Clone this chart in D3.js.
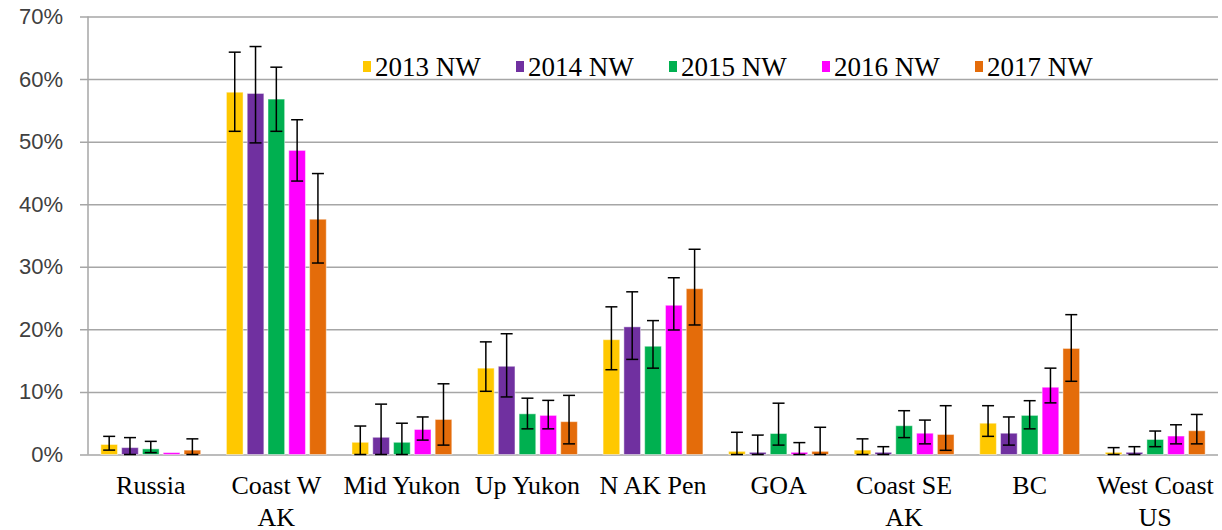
<!DOCTYPE html>
<html>
<head>
<meta charset="utf-8">
<script src="https://cdn.jsdelivr.net/npm/d3@7"></script>
<style>
    body { margin: 0; background: #fff; }
    .grid line { stroke: #a6a6a6; stroke-width: 1.5; }
    .grid text { font-family: "Liberation Sans", Arial, sans-serif; font-size: 22px; fill: #404040; }
    .catText { font-family: "Liberation Serif", "Times New Roman", serif; font-size: 26px; fill: #000; }
    .legendText { font-family: "Liberation Serif", "Times New Roman", serif; font-size: 27px; fill: #000; }
    .errbar { stroke: #000; stroke-width: 1.5; fill: none; }
</style>
</head>
<body>
<svg id="chart" width="1222" height="530"></svg>
<script>
/*
 Data
 */

var categories = ['Russia', 'Coast W\nAK', 'Mid Yukon', 'Up Yukon', 'N AK Pen', 'GOA', 'Coast SE\nAK', 'BC', 'West Coast\nUS'];
var seriesNames = ['2013 NW', '2014 NW', '2015 NW', '2016 NW', '2017 NW'];
var seriesColors = ['#ffc800', '#7030a0', '#00b050', '#ff00ff', '#e46c0a'];
var yTicks = [0, 10, 20, 30, 40, 50, 60, 70];

// bar heights, %
var val2013 = [1.6, 57.9, 1.95, 13.8, 18.35, 0.5, 0.7, 5.0, 0.35];
var val2014 = [1.1, 57.7, 2.75, 14.1, 20.4, 0.35, 0.35, 3.4, 0.35];
var val2015 = [0.9, 56.8, 1.95, 6.5, 17.3, 3.35, 4.6, 6.25, 2.4];
var val2016 = [0.3, 48.6, 4.0, 6.25, 23.85, 0.35, 3.4, 10.75, 2.95];
var val2017 = [0.7, 37.6, 5.6, 5.25, 26.5, 0.5, 3.2, 16.95, 3.8];

// error bar upper ends, %
var hi2013 = [2.9, 64.3, 4.55, 18.0, 23.6, 3.55, 2.5, 7.8, 1.1];
var hi2014 = [2.7, 65.2, 8.05, 19.3, 26.0, 3.1, 1.25, 6.0, 1.25];
var hi2015 = [2.1, 61.9, 5.0, 9.0, 21.4, 8.2, 7.0, 8.6, 3.75];
var hi2016 = [0.3, 53.5, 6.0, 8.65, 28.25, 1.9, 5.5, 13.8, 4.75];
var hi2017 = [2.5, 44.9, 11.3, 9.45, 32.8, 4.35, 7.8, 22.35, 6.4];

// error bar lower ends, %
var lo2013 = [0.7, 51.65, 0, 10.1, 13.55, 0, 0, 2.9, 0];
var lo2014 = [0, 49.8, 0, 9.2, 15.2, 0, 0, 1.5, 0];
var lo2015 = [0.3, 51.65, 0, 4.1, 13.8, 1.5, 2.7, 4.1, 1.25];
var lo2016 = [0.3, 43.7, 2.3, 4.1, 19.9, 0, 1.7, 8.25, 1.7];
var lo2017 = [0, 30.6, 1.5, 1.7, 20.7, 0, 0.67, 11.7, 1.7];

var allVals = [val2013, val2014, val2015, val2016, val2017];
var allHi = [hi2013, hi2014, hi2015, hi2016, hi2017];
var allLo = [lo2013, lo2014, lo2015, lo2016, lo2017];

/*
 Layout
 */

var VAR_LEFT = 88;
var VAR_RIGHT = 1218;
var VAR_TOP = 16.5;
var VAR_BOTTOM = 454.5;
var VAR_CAP = 6;

var svg = d3.select('#chart');

var x0 = d3.scaleBand()
    .domain(categories)
    .range([VAR_LEFT, VAR_RIGHT]);

var groupWidth = 104;
var x1 = d3.scaleBand()
    .domain(seriesNames)
    .range([(x0.bandwidth() - groupWidth) / 2, (x0.bandwidth() + groupWidth) / 2])
    .paddingInner(0.2)
    .paddingOuter(0.1);

var y = d3.scaleLinear()
    .domain([0, 70])
    .range([VAR_BOTTOM, VAR_TOP]);

var barData = [];
seriesNames.forEach(function (s, si) {
    categories.forEach(function (c, ci) {
        barData.push({
            id: s + '_' + ci,
            cat: c,
            series: s,
            color: seriesColors[si],
            value: allVals[si][ci],
            hi: allHi[si][ci],
            lo: allLo[si][ci]
        });
    });
});

/*
 Grid and axis creation
 */

function makeGridSVG(svg) {
    var axis = d3.axisLeft(y)
        .tickValues(yTicks)
        .tickSize(-(VAR_RIGHT - VAR_LEFT + 8))
        .tickSizeOuter(0)
        .tickPadding(17)
        .tickFormat(function (d) {
            return d + '%';
        });

    var g = svg.append('g')
        .classed('grid', true)
        .attr('transform', 'translate(' + (VAR_LEFT - 8) + ',0)')
        .call(axis);

    g.select('.domain').remove();

    svg.append('line')
        .classed('grid', true)
        .attr('x1', VAR_LEFT)
        .attr('x2', VAR_LEFT)
        .attr('y1', VAR_TOP)
        .attr('y2', VAR_BOTTOM)
        .attr('stroke', '#a6a6a6')
        .attr('stroke-width', 1.5);

    return g;
}

function makeCategorySVG(svg) {
    var labels = svg.selectAll('.catText')
        .data(categories)
        .enter().append('text')
        .classed('catText', true)
        .attr('text-anchor', 'middle')
        .attr('y', 494);

    labels.each(function (d) {
        var lines = d.split('\n');
        var cx = x0(d) + x0.bandwidth() / 2;
        d3.select(this).selectAll('tspan')
            .data(lines)
            .enter().append('tspan')
            .attr('x', cx)
            .attr('dy', function (l, i) {
                return i === 0 ? 0 : 31.5;
            })
            .text(function (l) {
                return l;
            });
    });

    return labels;
}

/*
 Bars creation
 */

function makeBarsSVG(barData, svg) {
    var bars = svg.selectAll('.bar')
        .data(barData, function (d) {
            return d.id;
        });

    var barsE = bars.enter().append('rect')
        .classed('bar', true)
        .attr('x', function (d) {
            return x0(d.cat) + x1(d.series);
        })
        .attr('y', function (d) {
            return y(d.value);
        })
        .attr('width', x1.bandwidth())
        .attr('height', function (d) {
            return y(0) - y(d.value);
        })
        .attr('fill', function (d) {
            return d.color;
        })
        .attr('stroke', '#ffffff')
        .attr('stroke-opacity', 0.45)
        .attr('stroke-width', 1);

    return bars.merge(barsE);
}

function makeErrorSVG(barData, svg) {
    var errs = svg.selectAll('g.err')
        .data(barData.filter(function (d) {
            return d.hi > d.lo;
        }), function (d) {
            return d.id;
        });

    var errsE = errs.enter().append('g')
        .classed('err', true)
        .each(function (d) {
            var cx = x0(d.cat) + x1(d.series) + x1.bandwidth() / 2;
            var g = d3.select(this);
            g.append('line')
                .classed('errbar', true)
                .attr('x1', cx).attr('x2', cx)
                .attr('y1', y(d.hi)).attr('y2', y(d.lo));
            [d.hi, d.lo].forEach(function (v) {
                g.append('line')
                    .classed('errbar', true)
                    .attr('x1', cx - VAR_CAP).attr('x2', cx + VAR_CAP)
                    .attr('y1', y(v)).attr('y2', y(v));
            });
        });

    return errs.merge(errsE);
}

/*
 Legend creation
 */

function makeLegendSVG(svg) {
    var legendX = d3.scalePoint()
        .domain(seriesNames)
        .range([363, 975]);

    var items = svg.selectAll('g.legend')
        .data(seriesNames)
        .enter().append('g')
        .classed('legend', true)
        .attr('transform', function (d) {
            return 'translate(' + legendX(d) + ',0)';
        });

    items.append('rect')
        .attr('x', 0)
        .attr('y', 61)
        .attr('width', 8)
        .attr('height', 11)
        .attr('fill', function (d, i) {
            return seriesColors[i];
        });

    items.append('text')
        .classed('legendText', true)
        .attr('x', 12)
        .attr('y', 76)
        .text(function (d) {
            return d;
        });

    return items;
}

makeGridSVG(svg);
makeBarsSVG(barData, svg);
makeErrorSVG(barData, svg);
makeCategorySVG(svg);
makeLegendSVG(svg);
</script>
</body>
</html>
